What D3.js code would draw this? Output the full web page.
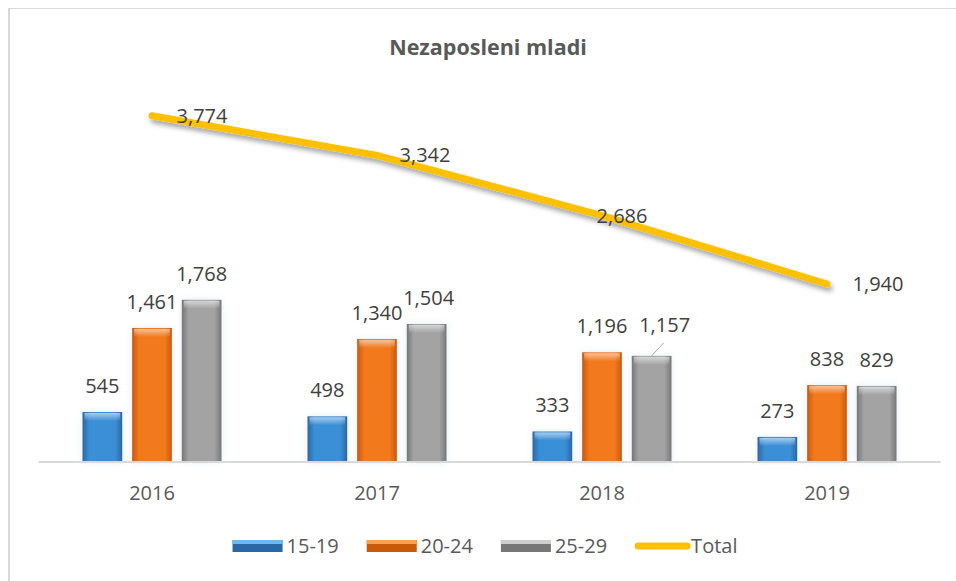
<!DOCTYPE html>
<html>
<head>
<meta charset="utf-8">
<script src="https://cdn.jsdelivr.net/npm/d3@7"></script>
<style>
  html, body { margin: 0; padding: 0; background: #fff; }
  svg { display: block; }
  text { font-family: "Open Sans", "DejaVu Sans", sans-serif; }
</style>
</head>
<body>
<svg id="chart" width="956" height="581"></svg>
<script>
// ---- data ----
const years = ["2016", "2017", "2018", "2019"];
const seriesNames = ["15-19", "20-24", "25-29"];
const age15_19 = [545, 498, 333, 273];
const age20_24 = [1461, 1340, 1196, 838];
const age25_29 = [1768, 1504, 1157, 829];
const total = [3774, 3342, 2686, 1940];
const lineName = "Total";
const title = "Nezaposleni mladi";

// ---- styling / layout ----
const W = 956, H = 581;
const plot = { left: 39.5, right: 939.5, top: 95, bottom: 462 };
const colors = {
  "15-19": { light: "#6ab9f0", mid: "#3b8fd6", dark: "#2a67a6" },
  "20-24": { light: "#ffa04a", mid: "#f2791c", dark: "#c95a0a" },
  "25-29": { light: "#cfcfcf", mid: "#a3a3a3", dark: "#777777" }
};
const lineColor = "#ffc000";
// manual label nudges (dx, dy), as in the original
const barLabelNudge = {
  "15-19": [[0,0],[0,0],[0,0],[0,0]],
  "20-24": [[0,0],[0,0],[0,0],[0,0]],
  "25-29": [[0,0],[2,0],[13,-5],[0,0]]
};
const lineLabelDx = [50, 48, 20, 51];

const svg = d3.select("#chart");
const defs = svg.append("defs");

seriesNames.forEach((s, i) => {
  const c = colors[s];
  const g = defs.append("linearGradient").attr("id", "grad" + i)
    .attr("x1", "0").attr("x2", "1").attr("y1", "0").attr("y2", "0");
  g.append("stop").attr("offset", "0%").attr("stop-color", c.dark);
  g.append("stop").attr("offset", "18%").attr("stop-color", c.mid);
  g.append("stop").attr("offset", "82%").attr("stop-color", c.mid);
  g.append("stop").attr("offset", "100%").attr("stop-color", c.dark);
  const gv = defs.append("linearGradient").attr("id", "gradv" + i)
    .attr("x1", "0").attr("x2", "0").attr("y1", "0").attr("y2", "1");
  gv.append("stop").attr("offset", "0%").attr("stop-color", "#ffffff").attr("stop-opacity", 0.55);
  gv.append("stop").attr("offset", "100%").attr("stop-color", "#ffffff").attr("stop-opacity", 0);
});
const sh = defs.append("filter").attr("id", "lineShadow")
  .attr("x", "-10%").attr("y", "-50%").attr("width", "120%").attr("height", "200%");
sh.append("feDropShadow").attr("dx", 2).attr("dy", 4).attr("stdDeviation", 2.5)
  .attr("flood-color", "#000").attr("flood-opacity", 0.35);
const bsh = defs.append("filter").attr("id", "barShadow")
  .attr("x", "-30%").attr("y", "-10%").attr("width", "160%").attr("height", "120%");
bsh.append("feDropShadow").attr("dx", 0).attr("dy", 0).attr("stdDeviation", 3)
  .attr("flood-color", "#88aacc").attr("flood-opacity", 0.25);

// frame
svg.append("rect").attr("x", 8.5).attr("y", 8.5).attr("width", 1000).attr("height", 1000)
  .attr("fill", "none").attr("stroke", "#d9d9d9").attr("stroke-width", 1);
svg.append("line").attr("x1", 9).attr("x2", 9).attr("y1", 8).attr("y2", H)
  .attr("stroke", "#d9d9d9").attr("stroke-width", 2);

// title
svg.append("text").attr("x", 488).attr("y", 55).attr("text-anchor", "middle")
  .attr("font-size", 21.5).attr("font-weight", "bold").attr("fill", "#595959").text(title);

// scales
const x0 = d3.scaleBand().domain(years).range([plot.left, plot.right]).padding(0);
const groupW = 139;
const off = (x0.bandwidth() - groupW) / 2;
const x1 = d3.scaleBand().domain(seriesNames).range([off, off + groupW]).paddingInner(0.2).paddingOuter(0);
const y = d3.scaleLinear().domain([0, 4000]).range([plot.bottom, plot.top]);

const seriesData = { "15-19": age15_19, "20-24": age20_24, "25-29": age25_29 };

// bars
seriesNames.forEach((s, si) => {
  const g = svg.append("g");
  const vals = seriesData[s];
  const sel = g.selectAll("g.bar").data(years.map((yr, i) => ({ yr, v: vals[i], i })))
    .enter().append("g").attr("class", "bar");
  sel.append("rect")
    .attr("x", d => x0(d.yr) + x1(s)).attr("y", d => y(d.v))
    .attr("width", x1.bandwidth()).attr("height", d => y(0) - y(d.v))
    .attr("fill", "url(#grad" + si + ")").attr("filter", "url(#barShadow)");
  sel.append("rect")
    .attr("x", d => x0(d.yr) + x1(s) + 2).attr("y", d => y(d.v) + 1)
    .attr("width", x1.bandwidth() - 4).attr("height", 8)
    .attr("fill", "url(#gradv" + si + ")");
  sel.append("text")
    .attr("x", d => x0(d.yr) + x1(s) + x1.bandwidth() / 2 + barLabelNudge[s][d.i][0])
    .attr("y", d => y(d.v) - 19 + barLabelNudge[s][d.i][1])
    .attr("text-anchor", "middle").attr("font-size", 20).attr("fill", "#404040")
    .text(d => d3.format(",")(d.v));
});

// leader line for nudged 1,157 label
{
  const s = "25-29", i = 2;
  const bx = x0(years[i]) + x1(s) + x1.bandwidth() / 2;
  svg.append("line").attr("x1", bx).attr("y1", y(age25_29[i]))
    .attr("x2", bx + 12).attr("y2", y(age25_29[i]) - 13)
    .attr("stroke", "#a6a6a6").attr("stroke-width", 1);
}

// axis line
svg.append("line").attr("x1", plot.left - 1).attr("x2", plot.right + 1)
  .attr("y1", plot.bottom).attr("y2", plot.bottom)
  .attr("stroke", "#d9d9d9").attr("stroke-width", 2);

// x axis labels
const xAxis = d3.axisBottom(x0).tickSize(0).tickPadding(0);
const ax = svg.append("g").attr("transform", `translate(0,${plot.bottom})`).call(xAxis);
ax.select(".domain").remove();
ax.selectAll("text").attr("font-size", 20).attr("fill", "#595959")
  .attr("font-family", "Open Sans").attr("dy", 0).attr("y", 38);

// line
const cx = yr => x0(yr) + x0.bandwidth() / 2;
const line = d3.line().x((d, i) => cx(years[i])).y(d => y(d));
svg.append("path").datum(total).attr("d", line)
  .attr("fill", "none").attr("stroke", lineColor).attr("stroke-width", 7)
  .attr("stroke-linecap", "round").attr("stroke-linejoin", "round")
  .attr("filter", "url(#lineShadow)");
svg.append("g").selectAll("text").data(total).enter().append("text")
  .attr("x", (d, i) => cx(years[i]) + lineLabelDx[i])
  .attr("y", d => y(d) + 7)
  .attr("text-anchor", "middle").attr("font-size", 20).attr("fill", "#404040")
  .text(d => d3.format(",")(d));

// legend
const leg = svg.append("g");
const items = seriesNames.map((s, i) => ({ name: s, type: "bar", i })).concat([{ name: lineName, type: "line" }]);
let cursor = 0;
const legY = 546;
items.forEach(it => {
  const g = leg.append("g").attr("transform", `translate(${cursor},0)`);
  if (it.type === "bar") {
    g.append("rect").attr("x", 0).attr("y", legY - 6).attr("width", 50).attr("height", 12)
      .attr("fill", colors[it.name].dark);
    g.append("rect").attr("x", 0).attr("y", legY - 6).attr("width", 50).attr("height", 4)
      .attr("fill", colors[it.name].light);
    const t = g.append("text").attr("x", 54).attr("y", legY + 7).attr("font-size", 20)
      .attr("fill", "#595959").text(it.name);
    cursor += 54 + t.node().getComputedTextLength() + 28;
  } else {
    g.append("line").attr("x1", 3).attr("x2", 52).attr("y1", legY).attr("y2", legY)
      .attr("stroke", lineColor).attr("stroke-width", 7).attr("stroke-linecap", "round");
    const t = g.append("text").attr("x", 56).attr("y", legY + 7).attr("font-size", 20)
      .attr("fill", "#595959").text(it.name);
    cursor += 56 + t.node().getComputedTextLength();
  }
});
leg.attr("transform", `translate(${485 - cursor / 2},0)`);
</script>
</body>
</html>
